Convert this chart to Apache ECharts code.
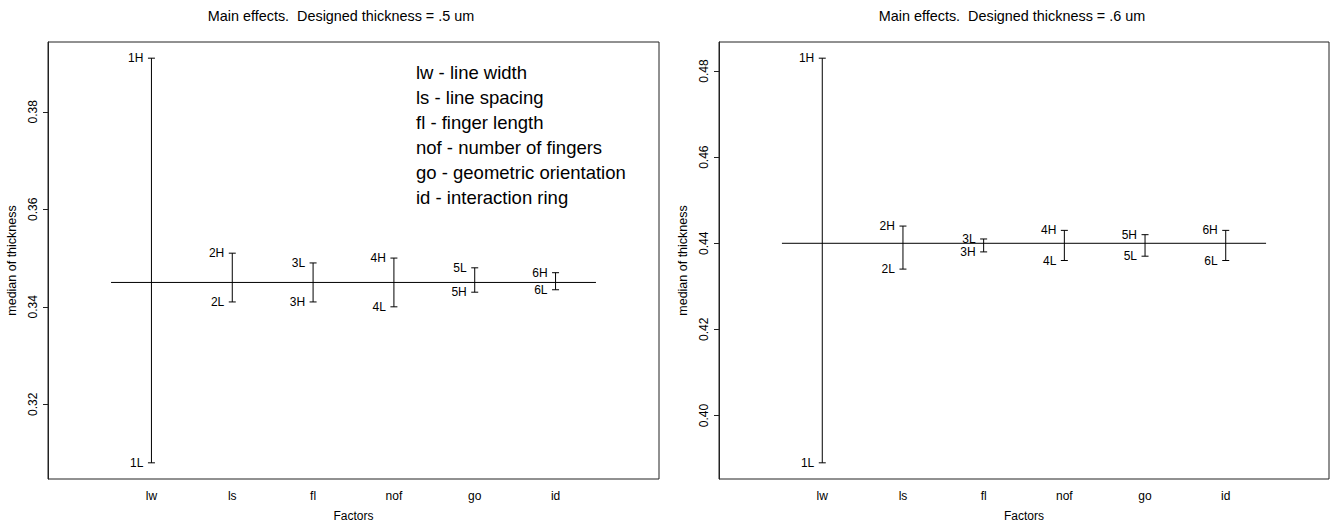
<!DOCTYPE html>
<html>
<head>
<meta charset="utf-8">
<script src="https://cdn.jsdelivr.net/npm/echarts@6/dist/echarts.min.js"></script>
<style>
html,body{margin:0;padding:0;background:#fff;}
#chart{width:1333px;height:527px;}
</style>
</head>
<body>
<div id="chart"></div>
<script>
// ---- data ----
const factors = ['lw', 'ls', 'fl', 'nof', 'go', 'id'];
const titles = ['Main effects.  Designed thickness = .5 um', 'Main effects.  Designed thickness = .6 um'];
const highLeft  = [0.391, 0.351, 0.341, 0.350, 0.343, 0.347];
const lowLeft   = [0.308, 0.341, 0.349, 0.340, 0.348, 0.3435];
const highRight = [0.483, 0.444, 0.438, 0.443, 0.442, 0.443];
const lowRight  = [0.389, 0.434, 0.441, 0.436, 0.437, 0.436];
const grandLeft = 0.345;
const grandRight = 0.440;
const grandSpan = [0.5, 6.5];
const yTicksLeft = [0.32, 0.34, 0.36, 0.38];
const yTicksRight = [0.40, 0.42, 0.44, 0.46, 0.48];
const legendLines = [
  'lw - line width',
  'ls - line spacing',
  'fl - finger length',
  'nof - number of fingers',
  'go - geometric orientation',
  'id - interaction ring'
];

const FONT = '"Liberation Sans", Arial, Helvetica, sans-serif';
const chart = echarts.init(document.getElementById('chart'), null, {renderer: 'svg'});

function yRange(h, l) {
  const all = h.concat(l);
  const lo = Math.min(...all), hi = Math.max(...all);
  const pad = 0.04 * (hi - lo);
  return [lo - pad, hi + pad];
}
const rL = yRange(highLeft, lowLeft);
const rR = yRange(highRight, lowRight);

const grids = [
  {left: 48, top: 42, width: 611, height: 439},
  {left: 719, top: 42, width: 610, height: 439}
];

function xAxis(gi) {
  return {
    gridIndex: gi, type: 'value', min: -0.28, max: 7.28,
    axisLine: {show: false, onZero: false}, axisTick: {show: false}, splitLine: {show: false},
    axisLabel: {
      customValues: [1, 2, 3, 4, 5, 6],
      formatter: v => factors[Math.round(v) - 1],
      margin: 11, fontSize: 12, color: '#000', fontFamily: FONT
    },
    name: 'Factors', nameLocation: 'middle', nameGap: 31,
    nameTextStyle: {fontSize: 12, color: '#000', fontFamily: FONT}
  };
}
function yAxis(gi, r, ticks) {
  return {
    gridIndex: gi, type: 'value', min: r[0], max: r[1],
    splitLine: {show: false},
    axisLine: {show: true, onZero: false, lineStyle: {color: '#222', width: 1}},
    axisTick: {show: true, customValues: ticks, length: 5, lineStyle: {color: '#222'}},
    axisLabel: {
      customValues: ticks, rotate: 90, margin: 9,
      formatter: v => v.toFixed(2), fontSize: 12, color: '#000', fontFamily: FONT
    },
    name: 'median of thickness', nameLocation: 'middle', nameRotate: 90, nameGap: 30,
    nameTextStyle: {fontSize: 12.5, color: '#000', fontFamily: FONT}
  };
}

function barSeries(gi, high, low) {
  return {
    type: 'custom', xAxisIndex: gi, yAxisIndex: gi,
    data: high.map((h, i) => [i + 1, h, low[i], i]),
    renderItem: function (params, api) {
      const x = api.value(0), h = api.value(1), l = api.value(2), idx = api.value(3);
      const pH = api.coord([x, h]);
      const pL = api.coord([x, l]);
      const st = {stroke: '#000', lineWidth: 1};
      const cap = 3.5, off = 8;
      const tStyle = {fontSize: 12, fontFamily: FONT, fill: '#000', align: 'right', verticalAlign: 'middle'};
      return {
        type: 'group',
        children: [
          {type: 'line', shape: {x1: pH[0], y1: pH[1], x2: pL[0], y2: pL[1]}, style: st},
          {type: 'line', shape: {x1: pH[0] - cap, y1: pH[1], x2: pH[0] + cap, y2: pH[1]}, style: st},
          {type: 'line', shape: {x1: pL[0] - cap, y1: pL[1], x2: pL[0] + cap, y2: pL[1]}, style: st},
          {type: 'text', x: pH[0] - off, y: pH[1], style: Object.assign({text: (idx + 1) + 'H'}, tStyle)},
          {type: 'text', x: pL[0] - off, y: pL[1], style: Object.assign({text: (idx + 1) + 'L'}, tStyle)}
        ]
      };
    }
  };
}
function grandSeries(gi, g) {
  return {
    type: 'line', xAxisIndex: gi, yAxisIndex: gi, symbol: 'none', silent: true,
    lineStyle: {color: '#000', width: 1},
    data: grandSpan.map(x => [x, g])
  };
}

const option = {
  animation: false,
  backgroundColor: '#fff',
  title: [
    {text: titles[0], left: 336, textAlign: 'center', top: 4,
     textStyle: {fontSize: 14.4, fontWeight: 'normal', color: '#000', fontFamily: FONT}},
    {text: titles[1], left: 1007, textAlign: 'center', top: 4,
     textStyle: {fontSize: 14.4, fontWeight: 'normal', color: '#000', fontFamily: FONT}}
  ],
  grid: grids.map(g => Object.assign({show: true, borderColor: '#222', borderWidth: 1, backgroundColor: 'transparent'}, g)),
  xAxis: [xAxis(0), xAxis(1)],
  yAxis: [yAxis(0, rL, yTicksLeft), yAxis(1, rR, yTicksRight)],
  series: [
    grandSeries(0, grandLeft), barSeries(0, highLeft, lowLeft),
    grandSeries(1, grandRight), barSeries(1, highRight, lowRight)
  ],
  graphic: legendLines.map((t, i) => ({
    type: 'text', x: 416, y: 72 + i * 25,
    style: {text: t, fontSize: 18.5, fontFamily: FONT, fill: '#000', align: 'left', verticalAlign: 'middle'}
  }))
};
chart.setOption(option);
</script>
</body>
</html>
